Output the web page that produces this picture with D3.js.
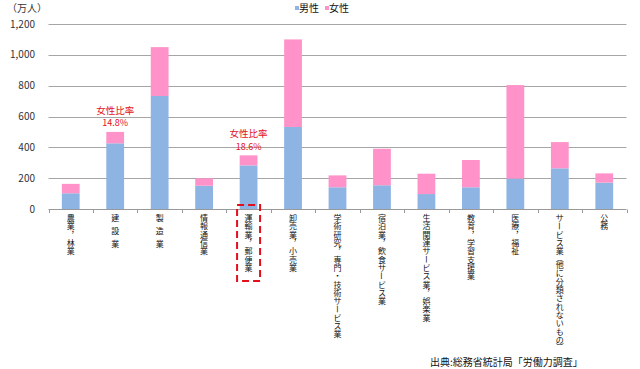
<!DOCTYPE html>
<html><head><meta charset="utf-8">
<script src="https://cdn.jsdelivr.net/npm/d3@7"></script>
<style>body{margin:0;background:#fff}svg{display:block}text{font-family:"Noto Sans CJK JP","Noto Sans",sans-serif}</style>
</head><body><svg id="c" width="640" height="369"></svg>
<script>
const categories = ["農業，林業","建 設 業","製 造 業","情報通信業","運輸業，郵便業","卸売業，小売業","学術研究，専門・技術サービス業","宿泊業，飲食サービス業","生活関連サービス業，娯楽業","教育，学習支援業","医療，福祉","サービス業(他に分類されないもの)","公務"];
const male   = [102,426,733,151,283,532,141,154,97,141,197,264,171];
const female = [61,74,317,48,65,568,77,237,132,177,607,170,60];
const yTicks = [0,200,400,600,800,1000,1200];
const seriesNames = ["男性","女性"];
const colors = ["#8db4e2","#ff93c9"];
const notes = [{i:1,label:"女性比率",pct:"14.8%"},{i:4,label:"女性比率",pct:"18.6%"}];
const highlight = 4;

const svg = d3.select("#c");
const x = d3.scaleBand().domain(d3.range(categories.length)).range([48.5,626.5]).paddingInner(0.6).paddingOuter(0.3);
const y = d3.scaleLinear().domain([0,1200]).range([209,24]);
const band = x.step();

svg.append("g").selectAll("line").data(yTicks.filter(d=>d>0)).join("line")
  .attr("x1",48.5).attr("x2",626.5).attr("y1",d=>Math.round(y(d))+0.5).attr("y2",d=>Math.round(y(d))+0.5)
  .attr("stroke","#a6a6a6").attr("stroke-width",1);

svg.append("g").selectAll("text").data(yTicks).join("text")
  .attr("x",35).attr("y",d=>y(d)+3.5).attr("text-anchor","end").attr("font-size",10).attr("fill","#333")
  .text(d=>d3.format(",")(d));

const stackData = categories.map((c,i)=>({i, m:male[i], f:female[i]}));
const stack = d3.stack().keys(["m","f"])(stackData);
svg.append("g").selectAll("g").data(stack).join("g").attr("fill",(d,k)=>colors[k])
  .selectAll("rect").data(d=>d).join("rect")
  .attr("x",d=>x(d.data.i)).attr("width",x.bandwidth())
  .attr("y",d=>y(d[1])).attr("height",d=>y(d[0])-y(d[1]));

svg.append("line").attr("x1",48.5).attr("x2",626.5).attr("y1",209.5).attr("y2",209.5).attr("stroke","#999");
svg.append("g").selectAll("line").data(d3.range(categories.length+1)).join("line")
  .attr("x1",i=>Math.round(48.5+i*band)+0.5).attr("x2",i=>Math.round(48.5+i*band)+0.5)
  .attr("y1",209.5).attr("y2",213).attr("stroke","#999");

// vertical category labels: one glyph per text, stacked top to bottom
const vmap = {"，":"︐","(":"︵",")":"︶"};
const pitchOf = ch => ch===" " ? 4.5 : (ch==="(" || ch===")") ? 5.5 : 8.3;
categories.forEach((lab,i)=>{
  const cx = x(i)+x.bandwidth()/2;
  const g = svg.append("g");
  let yy = 213.5;
  for (const ch of lab){
    const p = pitchOf(ch);
    if (ch===" "){ yy += p; continue; }
    const cy = yy + p/2;
    const t = g.append("text").attr("font-size",8).attr("fill","#111")
      .attr("text-anchor","middle").attr("dominant-baseline","central");
    if (ch==="ー"){
      t.attr("transform",`translate(${cx},${cy}) rotate(90)`).text(ch);
    } else {
      t.attr("x",cx).attr("y",cy).text(vmap[ch]||ch);
    }
    yy += p;
  }
});

const hx = x(highlight)+x.bandwidth()/2;
svg.append("rect").attr("x",hx-11.5).attr("y",205).attr("width",23).attr("height",76)
  .attr("fill","none").attr("stroke","#e3101c").attr("stroke-width",2).attr("stroke-dasharray","7,4");

notes.forEach(n=>{
  const cx = x(n.i)+x.bandwidth()/2;
  const top = y(male[n.i]+female[n.i]);
  svg.append("text").attr("x",cx).attr("y",top-18).attr("text-anchor","middle").attr("font-size",9.5).attr("fill","#e3101c").text(n.label);
  svg.append("text").attr("x",cx).attr("y",top-5.5).attr("text-anchor","middle").attr("font-size",9).attr("fill","#e3101c").text(n.pct);
});

svg.append("text").attr("x",7).attr("y",12).attr("font-size",10).attr("fill","#333").text("（万人）");

const lg = svg.append("g");
[[295,0],[325,1]].forEach(([lx,k])=>{
  lg.append("rect").attr("x",lx).attr("y",6).attr("width",4).attr("height",4).attr("fill",colors[k]);
  lg.append("text").attr("x",lx+4).attr("y",11.5).attr("font-size",10).attr("fill","#111").text(seriesNames[k]);
});

svg.append("text").attr("x",430).attr("y",366).attr("font-size",10).attr("fill","#111").text("出典:総務省統計局「労働力調査」");
</script></body></html>
